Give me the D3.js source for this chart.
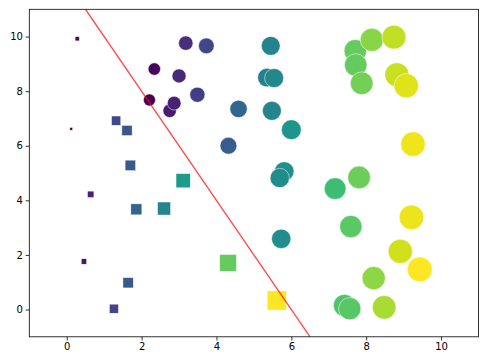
<!DOCTYPE html>
<html>
<head>
<meta charset="utf-8">
<script src="https://cdn.jsdelivr.net/npm/d3@7"></script>
<style>
  html, body { margin: 0; padding: 0; background: #fff; }
  svg { display: block; }
  .tick text { font-family: "DejaVu Sans", sans-serif; font-size: 10px; fill: #000; }
</style>
</head>
<body>
<svg id="chart" width="487" height="363"></svg>
<script>
// ---- data ----
const squareX = [0.12, 0.28, 0.46, 0.64, 1.32, 1.61, 1.70, 1.86, 2.60, 3.11, 1.64, 1.26, 4.31, 5.61];
const squareY = [6.62, 9.92, 1.76, 4.22, 6.92, 6.56, 5.28, 3.67, 3.70, 4.72, 0.98, 0.03, 1.71, 0.33];

const circleX = [2.34, 2.21, 2.75, 2.87, 3.00, 3.18, 3.73, 3.49, 4.59, 4.32,
                 5.45, 5.35, 5.54, 5.48, 6.00, 5.81, 5.69, 5.73, 7.17, 7.81,
                 7.59, 7.71, 7.72, 7.88, 8.15, 8.74, 8.82, 9.07, 9.25, 9.21,
                 8.91, 9.43, 8.20, 7.42, 7.56, 8.48];
const circleY = [8.81, 7.68, 7.28, 7.56, 8.56, 9.76, 9.66, 7.87, 7.35, 6.00,
                 9.66, 8.50, 8.48, 7.28, 6.59, 5.06, 4.82, 2.59, 4.43, 4.84,
                 3.04, 9.48, 8.96, 8.29, 9.88, 9.98, 8.60, 8.20, 6.06, 3.38,
                 2.13, 1.47, 1.15, 0.15, 0.03, 0.08];

// separating line y = a + b*x
const lineA = 12, lineB = -2;

const xTicks = [0, 2, 4, 6, 8, 10];
const yTicks = [0, 2, 4, 6, 8, 10];
const xDomain = [-1, 11], yDomain = [-1, 11];

// ---- layout ----
const svg = d3.select("#chart");
const m = { left: 29.3, top: 9.3, right: 8.5, bottom: 26.2 };
const W = 487 - m.left - m.right, H = 363 - m.top - m.bottom;
const g = svg.append("g").attr("transform", `translate(${m.left},${m.top})`);

const x = d3.scaleLinear().domain(xDomain).range([0, W]);
const y = d3.scaleLinear().domain(yDomain).range([H, 0]);
// marker size: area proportional to x value
const size = d3.scaleSqrt().domain([0, 10]).range([0, 8.1 * Math.sqrt(10)]);

g.append("clipPath").attr("id", "clip")
  .append("rect").attr("width", W).attr("height", H);

const squares = squareX.map((v, i) => ({ x: v, y: squareY[i] }));
const circles = circleX.map((v, i) => ({ x: v, y: circleY[i] }));

const sqColor = d3.scaleSequential(d3.interpolateViridis).domain(d3.extent(squareX));
const ciColor = d3.scaleSequential(d3.interpolateViridis).domain(d3.extent(circleX));

const plot = g.append("g").attr("clip-path", "url(#clip)");

plot.selectAll("rect.sq").data(squares).join("rect")
  .attr("class", "sq")
  .attr("x", d => x(d.x) - size(d.x) / 2)
  .attr("y", d => y(d.y) - size(d.x) / 2)
  .attr("width", d => size(d.x))
  .attr("height", d => size(d.x))
  .attr("fill", d => sqColor(d.x))
  .attr("stroke", "#fff").attr("stroke-width", 0.5);

plot.selectAll("circle.ci").data(circles).join("circle")
  .attr("class", "ci")
  .attr("cx", d => x(d.x))
  .attr("cy", d => y(d.y))
  .attr("r", d => size(d.x) / 2)
  .attr("fill", d => ciColor(d.x))
  .attr("stroke", "#fff").attr("stroke-width", 0.5);

// line through the axes range
const lx = xDomain.map(v => v);
const linePts = [[(yDomain[1] - lineA) / lineB, yDomain[1]], [(yDomain[0] - lineA) / lineB, yDomain[0]]];
plot.append("path")
  .attr("d", d3.line().x(d => x(d[0])).y(d => y(d[1]))(linePts))
  .attr("stroke", "red").attr("stroke-opacity", 0.7)
  .attr("stroke-width", 1.4).attr("fill", "none");

// ---- axes ----
const xAxis = d3.axisBottom(x).tickValues(xTicks).tickSize(3.7).tickPadding(2.7);
const yAxis = d3.axisLeft(y).tickValues(yTicks).tickSize(3.7).tickPadding(2.7);

const gx = g.append("g").attr("transform", `translate(0,${H})`).call(xAxis);
const gy = g.append("g").call(yAxis);
[gx, gy].forEach(a => {
  a.select(".domain").remove();
  a.selectAll(".tick line").attr("stroke", "#000").attr("stroke-width", 0.8);
});

// frame (spines)
g.append("rect").attr("width", W).attr("height", H)
  .attr("fill", "none").attr("stroke", "#000").attr("stroke-width", 0.8);
</script>
</body>
</html>
